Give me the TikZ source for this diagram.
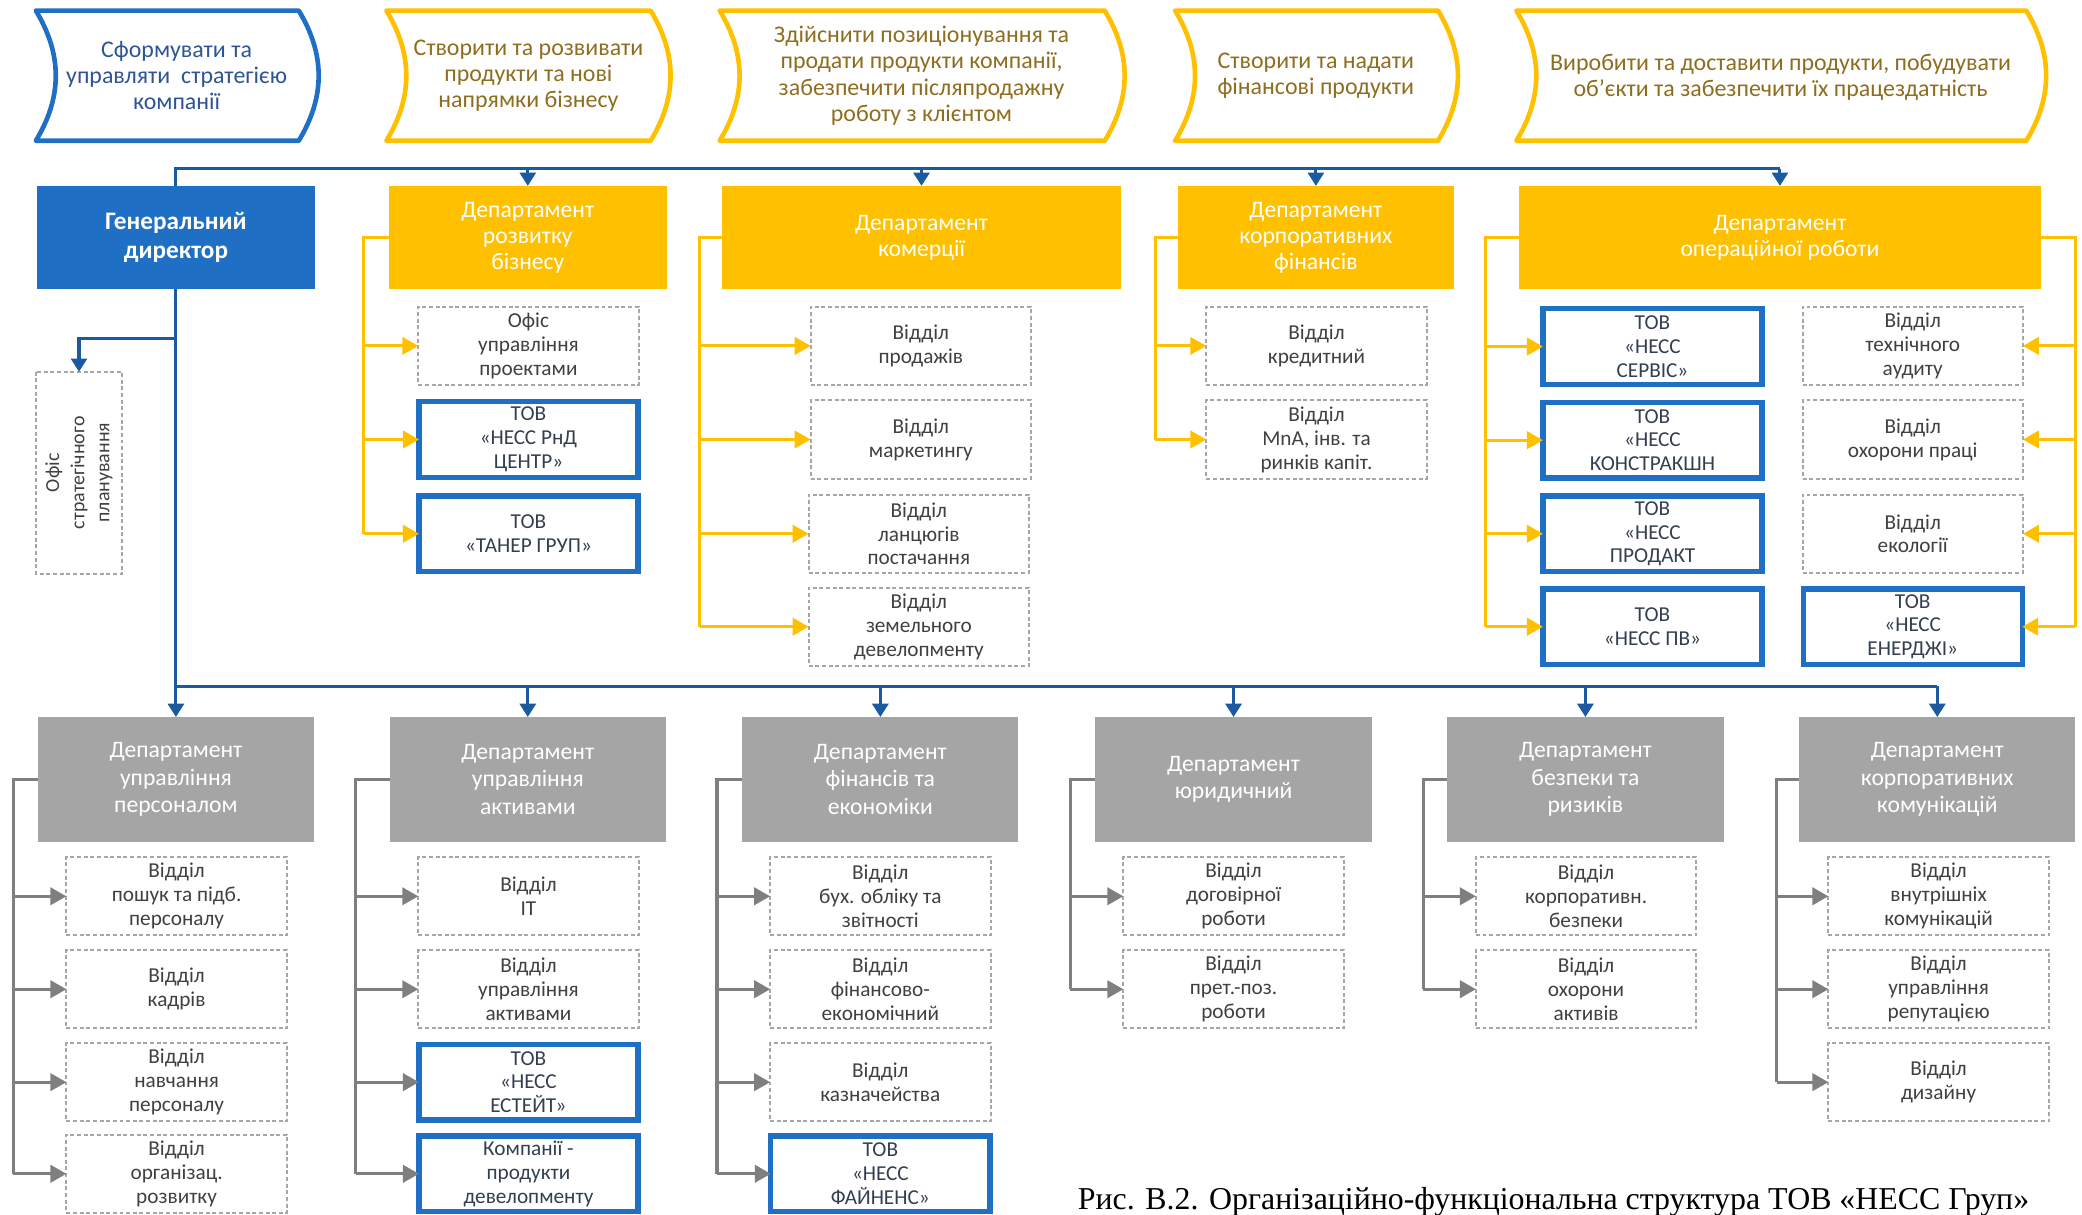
\documentclass[tikz,border=0pt]{standalone}
\usepackage{fontspec}
\setmainfont{Carlito}
\newfontfamily\capfont{Liberation Serif}
\usetikzlibrary{arrows.meta}
\definecolor{bfill}{HTML}{1F70C4}
\definecolor{blinec}{HTML}{1B5AA0}
\definecolor{gold}{HTML}{FFC000}
\definecolor{gfill}{HTML}{A5A5A5}
\definecolor{glinec}{HTML}{7F7F7F}
\definecolor{dgray}{HTML}{A6A6A6}
\definecolor{dtext}{HTML}{404040}
\definecolor{btext}{HTML}{333F50}
\definecolor{tblue}{HTML}{2F5496}
\definecolor{tgold}{HTML}{8F6D1E}
\newcommand\topshape[3]{%
  \draw[#1] (#2,8) -- (#3,8) .. controls +(20,33) and +(20,-33) .. (#3,106)
    -- (#2,106) .. controls +(20,-33) and +(20,33) .. (#2,8) -- cycle;}
\begin{document}
\begin{tikzpicture}[x=1pt,y=-1pt,
  base/.style={align=center, inner sep=0pt, outer sep=0pt},
  tshapeb/.style={draw=bfill, line width=3.5pt, line join=round},
  tshapey/.style={draw=gold, line width=3.5pt, line join=round},
  ttext/.style={base, font=\fontsize{18}{19.8}\selectfont},
  gdbox/.style={base, fill=bfill, text=white, minimum width=209pt, minimum height=78pt, font=\bfseries\fontsize{19}{22}\selectfont},
  ydept/.style={base, fill=gold, text=white, minimum height=78pt, font=\fontsize{17.8}{19.8}\selectfont},
  gdept/.style={base, fill=gfill, text=white, minimum width=208pt, minimum height=94pt, font=\fontsize{17.8}{20.5}\selectfont},
  child/.style={base, font=\fontsize{16}{18}\selectfont},
  dbox/.style={child, draw=dgray, line width=1.5pt, dash pattern=on 3pt off 2pt, minimum width=166pt, minimum height=59pt, text=dtext},
  bbox/.style={child, draw=bfill, line width=4pt, minimum width=165pt, minimum height=57pt, text=btext},
  bcon/.style={draw=blinec, line width=2.3pt},
  barr/.style={bcon, -{Triangle[length=10pt,width=12pt]}},
  ycon/.style={draw=gold, line width=2.3pt},
  yarr/.style={ycon, -{Triangle[length=12pt,width=13pt]}},
  gcon/.style={draw=glinec, line width=2.3pt},
  garr/.style={gcon, -{Triangle[length=12pt,width=13pt]}},
]
\useasboundingbox (0,0) rectangle (1568,915);

% ---- top row shapes
\topshape{tshapeb}{27}{225}
\topshape{tshapey}{291}{490}
\topshape{tshapey}{542}{832}
\topshape{tshapey}{885}{1083}
\topshape{tshapey}{1142}{1526}
\node[ttext, text=tblue] (p1) at (133,57) {Сформувати та\\управляти\ \ стратегією\\компанії};
\node[ttext, text=tgold] (p2) at (398,57) {Створити та розвивати\\продукти та нові\\напрямки бізнесу};
\node[ttext, text=tgold] (p3) at (694,57) {Здійснити позиціонування та\\продати продукти компанії,\\забезпечити післяпродажну\\роботу з клієнтом};
\node[ttext, text=tgold] (p4) at (991,57) {Створити та надати\\фінансові продукти};
\node[ttext, text=tgold] (p5) at (1341,58) {Виробити та доставити продукти, побудувати\\об’єкти та забезпечити їх працездатність};

% ---- second row
\node[gdbox] (gd) at (132.5,179) {Генеральний\\директор};
\node[ydept, minimum width=209pt] (d1) at (397.5,179) {Департамент\\розвитку\\бізнесу};
\node[ydept, minimum width=300pt] (d2) at (694,179) {Департамент\\комерції};
\node[ydept, minimum width=208pt] (d3) at (991,179) {Департамент\\корпоративних\\фінансів};
\node[ydept, minimum width=393pt] (d4) at (1340.5,179) {Департамент\\операційної роботи};

% children of d1
\node[dbox] (a1) at (398,260.5) {Офіс\\управління\\проектами};
\node[bbox] (a2) at (398,331) {ТОВ\\«НЕСС РнД\\ЦЕНТР»};
\node[bbox] (a3) at (398,402) {ТОВ\\«ТАНЕР ГРУП»};
% children of d2
\node[dbox] (b1) at (693.5,260.5) {Відділ\\продажів};
\node[dbox] (b2) at (693.5,331) {Відділ\\маркетингу};
\node[dbox] (b3) at (692,402) {Відділ\\ланцюгів\\постачання};
\node[dbox] (b4) at (692,472) {Відділ\\земельного\\девелопменту};
% children of d3
\node[dbox] (c1) at (991.5,260.5) {Відділ\\кредитний};
\node[dbox] (c2) at (991.5,331) {Відділ\\MnA, інв. та\\ринків капіт.};
% children of d4
\node[bbox] (e1) at (1244.5,261) {ТОВ\\«НЕСС\\СЕРВІС»};
\node[bbox] (e2) at (1244.5,331.5) {ТОВ\\«НЕСС\\КОНСТРАКШН};
\node[bbox] (e3) at (1244.5,402) {ТОВ\\«НЕСС\\ПРОДАКТ};
\node[bbox] (e4) at (1244.5,472) {ТОВ\\«НЕСС ПВ»};
\node[dbox] (f1) at (1440.5,260.5) {Відділ\\технічного\\аудиту};
\node[dbox] (f2) at (1440.5,331) {Відділ\\охорони праці};
\node[dbox] (f3) at (1440.5,402) {Відділ\\екології};
\node[bbox] (f4) at (1440.5,472) {ТОВ\\«НЕСС\\ЕНЕРДЖІ»};

% strategic office
\node[dbox, rotate=90, minimum width=152pt, minimum height=65pt, font=\fontsize{15}{19}\selectfont] (so) at (59.5,356) {Офіс\\стратегічного\\планування};

% ---- bottom row
\node[gdept] (g1) at (132.5,587) {Департамент\\управління\\персоналом};
\node[gdept] (g2) at (397.5,587) {Департамент\\управління\\активами};
\node[gdept] (g3) at (663,587) {Департамент\\фінансів та\\економіки};
\node[gdept] (g4) at (929,587) {Департамент\\юридичний};
\node[gdept] (g5) at (1194,587) {Департамент\\безпеки та\\ризиків};
\node[gdept] (g6) at (1459,587) {Департамент\\корпоративних\\комунікацій};

\node[dbox] (h11) at (133,675) {Відділ\\пошук та підб.\\персоналу};
\node[dbox] (h12) at (133,745) {Відділ\\кадрів};
\node[dbox] (h13) at (133,815) {Відділ\\навчання\\персоналу};
\node[dbox] (h14) at (133,884) {Відділ\\організац.\\розвитку};

\node[dbox] (h21) at (398,675) {Відділ\\IT};
\node[dbox] (h22) at (398,745) {Відділ\\управління\\активами};
\node[bbox] (h23) at (398,815) {ТОВ\\«НЕСС\\ЕСТЕЙТ»};
\node[bbox] (h24) at (398,884) {Компанії -\\продукти\\девелопменту};

\node[dbox] (h31) at (663,675) {Відділ\\бух. обліку та\\звітності};
\node[dbox] (h32) at (663,745) {Відділ\\фінансово-\\економічний};
\node[dbox] (h33) at (663,815) {Відділ\\казначейства};
\node[bbox] (h34) at (663,884) {ТОВ\\«НЕСС\\ФАЙНЕНС»};

\node[dbox] (h41) at (929,675) {Відділ\\договірної\\роботи};
\node[dbox] (h42) at (929,745) {Відділ\\прет.-поз.\\роботи};

\node[dbox] (h51) at (1194.5,675) {Відділ\\корпоративн.\\безпеки};
\node[dbox] (h52) at (1194.5,745) {Відділ\\охорони\\активів};

\node[dbox] (h61) at (1460,675) {Відділ\\внутрішніх\\комунікацій};
\node[dbox] (h62) at (1460,745) {Відділ\\управління\\репутацією};
\node[dbox] (h63) at (1460,815) {Відділ\\дизайну};

\node[font=\capfont\fontsize{24}{27}\selectfont, anchor=base] (cap) at (1170,911) {Рис. В.2. Організаційно-функціональна структура ТОВ «НЕСС Груп»};

% ---- blue connectors
\coordinate (t0) at (132.5,127);
\draw[bcon] (gd.north) -- (t0) -- (t0 -| d4.north);
\foreach \n in {d1,d2,d3,d4} \draw[barr] (t0 -| \n.north) -- (\n.north);
\coordinate (b0) at (132.5,517);
\coordinate (s0) at (132.5,255);
\draw[bcon] (gd.south) -- (b0) -- (b0 -| g6.north);
\foreach \n in {g1,g2,g3,g4,g5,g6} \draw[barr] (b0 -| \n.north) -- (\n.north);
\draw[barr] (s0) -- (s0 -| so.east) -- (so.east);

% ---- yellow connectors
\coordinate (y1) at (274,179);
\draw[ycon] (d1.west) -- (y1) -- (y1 |- a3.west);
\foreach \n in {a1,a2,a3} \draw[yarr] (y1 |- \n.west) -- (\n.west);
\coordinate (y2) at (527,179);
\draw[ycon] (d2.west) -- (y2) -- (y2 |- b4.west);
\foreach \n in {b1,b2,b3,b4} \draw[yarr] (y2 |- \n.west) -- (\n.west);
\coordinate (y3) at (870,179);
\draw[ycon] (d3.west) -- (y3) -- (y3 |- c2.west);
\foreach \n in {c1,c2} \draw[yarr] (y3 |- \n.west) -- (\n.west);
\coordinate (y4) at (1119,179);
\draw[ycon] (d4.west) -- (y4) -- (y4 |- e4.west);
\foreach \n in {e1,e2,e3,e4} \draw[yarr] (y4 |- \n.west) -- (\n.west);
\coordinate (y5) at (1563,179);
\draw[ycon] (d4.east) -- (y5) -- (y5 |- f4.east);
\foreach \n in {f1,f2,f3,f4} \draw[yarr] (y5 |- \n.east) -- (\n.east);

% ---- gray connectors
\coordinate (x1) at (10,587);
\draw[gcon] (g1.west) -- (x1) -- (x1 |- h14.west);
\foreach \n in {h11,h12,h13,h14} \draw[garr] (x1 |- \n.west) -- (\n.west);
\coordinate (x2) at (268,587);
\draw[gcon] (g2.west) -- (x2) -- (x2 |- h24.west);
\foreach \n in {h21,h22,h23,h24} \draw[garr] (x2 |- \n.west) -- (\n.west);
\coordinate (x3) at (540,587);
\draw[gcon] (g3.west) -- (x3) -- (x3 |- h34.west);
\foreach \n in {h31,h32,h33,h34} \draw[garr] (x3 |- \n.west) -- (\n.west);
\coordinate (x4) at (806,587);
\draw[gcon] (g4.west) -- (x4) -- (x4 |- h42.west);
\foreach \n in {h41,h42} \draw[garr] (x4 |- \n.west) -- (\n.west);
\coordinate (x5) at (1072,587);
\draw[gcon] (g5.west) -- (x5) -- (x5 |- h52.west);
\foreach \n in {h51,h52} \draw[garr] (x5 |- \n.west) -- (\n.west);
\coordinate (x6) at (1338,587);
\draw[gcon] (g6.west) -- (x6) -- (x6 |- h63.west);
\foreach \n in {h61,h62,h63} \draw[garr] (x6 |- \n.west) -- (\n.west);
\end{tikzpicture}
\end{document}
